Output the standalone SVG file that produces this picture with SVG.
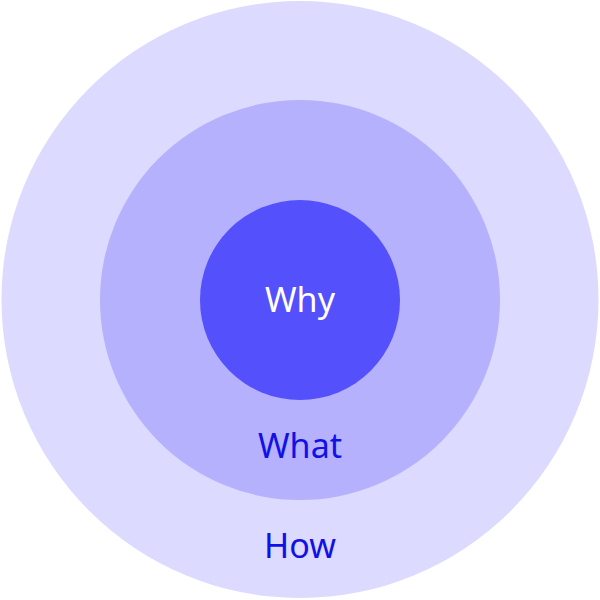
<svg xmlns="http://www.w3.org/2000/svg" width="600" height="600" viewBox="0 0 600 600">
  <style>
    .label { font-family: "Noto Sans", "Open Sans", sans-serif; font-size: 34px; text-anchor: middle; }
    .dark { fill: #1010e8; }
    .light { fill: #ffffff; }
  </style>
  <rect width="600" height="600" fill="#ffffff"/>
  <g id="how">
    <circle cx="300" cy="299.5" r="298.5" fill="#dcdafe"/>
    <text class="label dark" x="300" y="558">How</text>
  </g>
  <g id="what">
    <circle cx="300" cy="300" r="200" fill="#b5b1fd"/>
    <text class="label dark" x="300" y="458">What</text>
  </g>
  <g id="why">
    <circle cx="300" cy="300" r="100" fill="#5450fb"/>
    <text class="label light" x="300" y="312">Why</text>
  </g>
</svg>
